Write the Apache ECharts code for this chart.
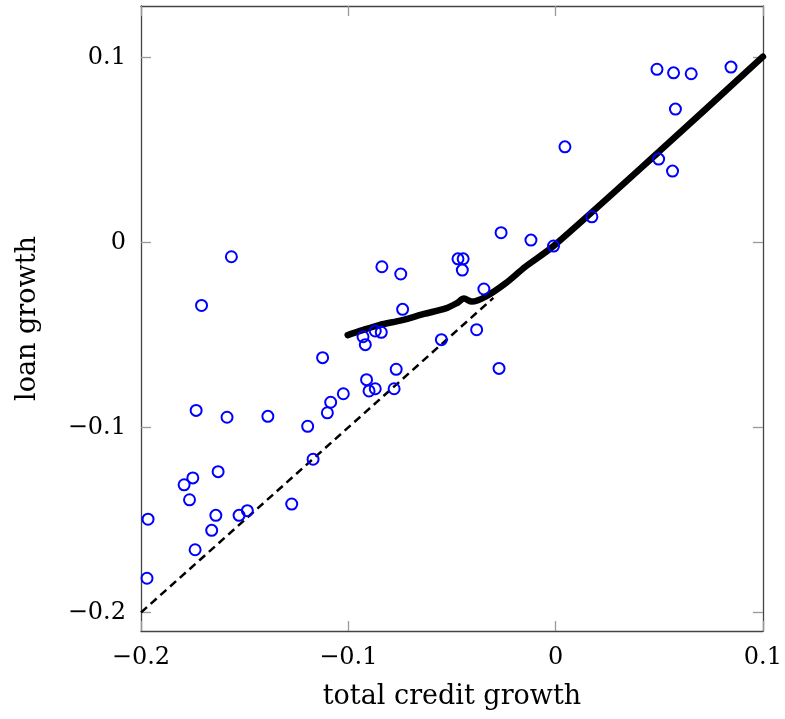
<!DOCTYPE html>
<html>
<head>
<meta charset="UTF-8">
<title>loan growth vs total credit growth</title>
<script src="https://cdn.jsdelivr.net/npm/echarts@6/dist/echarts.min.js"></script>
</head>
<body style="margin:0;background:#fff;">
<div id="container" style="width:785px;height:719px;"></div>
<script>
// scatter points [total credit growth, loan growth]
var creditGrowth = [
  -0.1966, -0.1971, -0.1708, -0.1564, -0.1734, -0.1585, -0.1388, -0.1628, -0.1750, -0.1792,
  -0.1766, -0.1639, -0.1659, -0.1739, -0.1527, -0.1487, -0.1273, -0.1196, -0.1170, -0.1124,
  -0.1101, -0.1085, -0.1024, -0.0929, -0.0918, -0.0912, -0.0900, -0.0870, -0.0870, -0.0841,
  -0.0838, -0.0779, -0.0769, -0.0747, -0.0738, -0.0551, -0.0471, -0.0446, -0.0450, -0.0381,
  -0.0346, -0.0273, -0.0263, -0.0119, -0.0010, 0.0045, 0.0175, 0.0489, 0.0569, 0.0654,
  0.0846, 0.0578, 0.0497, 0.0564
];
var loanGrowth = [
  -0.1496, -0.1815, -0.0341, -0.0078, -0.0908, -0.0945, -0.0940, -0.1239, -0.1273, -0.1310,
  -0.1391, -0.1475, -0.1556, -0.1661, -0.1475, -0.1450, -0.1414, -0.0994, -0.1172, -0.0623,
  -0.0921, -0.0864, -0.0818, -0.0510, -0.0553, -0.0742, -0.0803, -0.0791, -0.0479, -0.0486,
  -0.0132, -0.0791, -0.0686, -0.0171, -0.0362, -0.0526, -0.0089, -0.0089, -0.0150, -0.0472,
  -0.0252, -0.0681, 0.0052, 0.0012, -0.0020, 0.0516, 0.0138, 0.0935, 0.0916, 0.0911,
  0.0947, 0.0720, 0.0450, 0.0385
];

// fitted curve (thick line)
var fitX = [-0.1003, -0.0931, -0.0851, -0.0740, -0.0635, -0.0530, -0.0476, -0.0442, -0.0404, -0.0338, -0.0242, -0.0146, -0.0010, 0.0500, 0.1000];
var fitY = [-0.0501, -0.0474, -0.0447, -0.0420, -0.0387, -0.0357, -0.0328, -0.0304, -0.0320, -0.0294, -0.0222, -0.0132, -0.0020, 0.0491, 0.1003];

// 45 degree reference line (dashed)
var diagX = [-0.2, -0.03];

var tickValues = [-0.2, -0.1, 0, 0.1];

var fontFam = '"DejaVu Serif", serif';
function fmt(v) {
  if (Math.abs(v) < 1e-9) return '0';
  return (v < 0 ? '\u2212' : '') + Math.abs(v).toFixed(1);
}

var chart = echarts.init(document.getElementById('container'), null, { renderer: 'canvas' });

function axisBase(min, max, show) {
  return {
    type: 'value',
    min: min,
    max: max,
    axisLine: { show: true, onZero: false, lineStyle: { color: '#444', width: 1.3 } },
    axisTick: { show: true, inside: true, length: 10, customValues: tickValues, lineStyle: { color: '#999', width: 1.3 } },
    axisLabel: { show: show, customValues: tickValues, formatter: fmt, color: '#000', fontFamily: fontFam, fontSize: 24, margin: 15 },
    splitLine: { show: false }
  };
}

var xMain = axisBase(-0.2, 0.1, true);
xMain.position = 'bottom';
xMain.name = 'total credit growth';
xMain.nameLocation = 'middle';
xMain.nameGap = 52;
xMain.nameTextStyle = { color: '#000', fontFamily: fontFam, fontSize: 27 };
var xTop = axisBase(-0.2, 0.1, false);
xTop.position = 'top';

var yMain = axisBase(-0.21, 0.1277, true);
yMain.position = 'left';
yMain.name = 'loan growth';
yMain.nameLocation = 'middle';
yMain.nameGap = 100;
yMain.nameTextStyle = { color: '#000', fontFamily: fontFam, fontSize: 27 };
var yRight = axisBase(-0.21, 0.1277, false);
yRight.position = 'right';

var option = {
  backgroundColor: '#fff',
  animation: false,
  grid: { left: 141, top: 6, width: 624, height: 625 },
  xAxis: [xMain, xTop],
  yAxis: [yMain, yRight],
  series: [
    {
      type: 'line',
      data: diagX.map(function (v) { return [v, v]; }),
      symbol: 'none',
      lineStyle: { color: '#000', width: 2.5, type: [8, 5] },
      z: 2
    },
    {
      type: 'line',
      data: fitX.map(function (v, i) { return [v, fitY[i]]; }),
      symbol: 'none',
      smooth: 0.3,
      lineStyle: { color: '#000', width: 6.5, cap: 'round' },
      z: 3
    },
    {
      type: 'scatter',
      data: creditGrowth.map(function (v, i) { return [v, loanGrowth[i]]; }),
      symbol: 'circle',
      symbolSize: 11,
      itemStyle: { color: 'rgba(0,0,0,0)', borderColor: '#0000ff', borderWidth: 2, opacity: 1 },
      z: 4
    }
  ]
};

chart.setOption(option);
</script>
</body>
</html>
